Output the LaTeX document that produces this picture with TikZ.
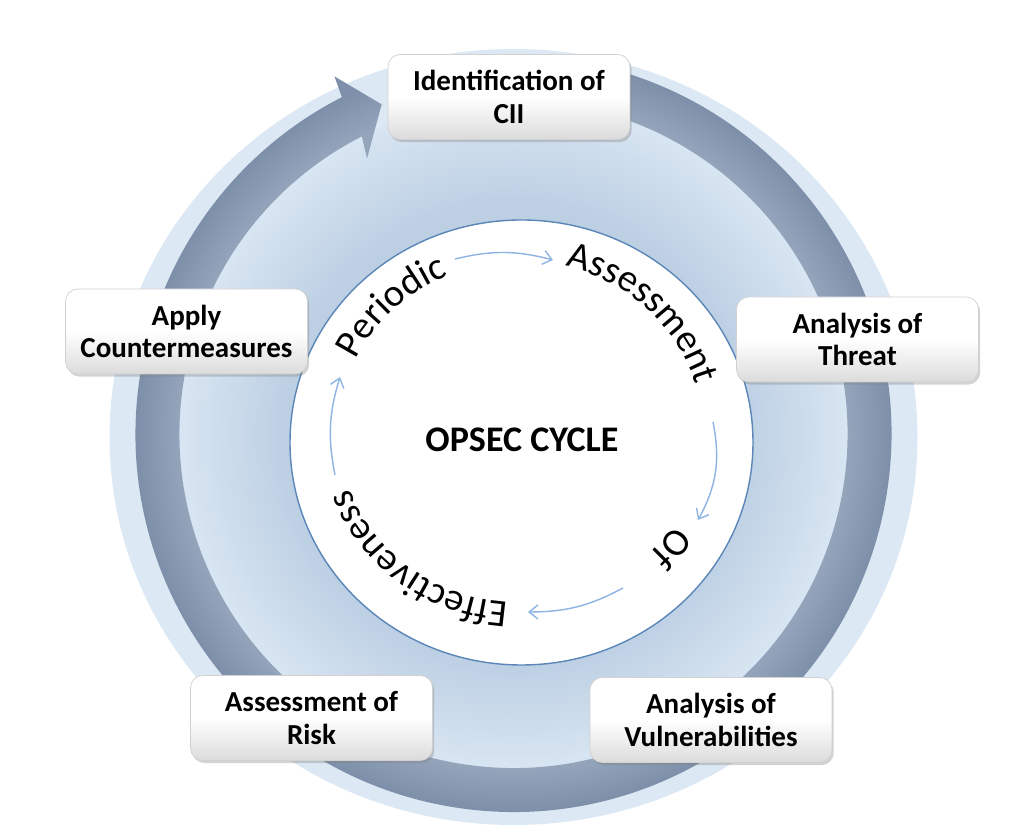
\documentclass[tikz,border=0pt]{standalone}
\usepackage{fontspec}
\setmainfont{Carlito}
\usetikzlibrary{arrows.meta,decorations.text,shadows}

\definecolor{discblue}{HTML}{DCE8F4}
\definecolor{midlight}{HTML}{D8E5F2}
\definecolor{middark}{HTML}{BCCFE3}
\definecolor{bandlight}{HTML}{93A4BB}
\definecolor{banddark}{HTML}{7E8FA9}
\definecolor{rimblue}{HTML}{5A86B8}
\definecolor{thinarrow}{HTML}{8EB4E3}

\pgfdeclareradialshading{midshade}{\pgfpoint{0bp}{0bp}}{color(0bp)=(middark); color(17bp)=(middark); color(25bp)=(midlight); color(50bp)=(midlight)}
\pgfdeclareradialshading{bandshade}{\pgfpoint{0bp}{0bp}}{color(0bp)=(bandlight); color(20.9bp)=(bandlight); color(23.6bp)=(banddark); color(50bp)=(banddark)}

\newcommand{\curvefont}{\fontsize{22}{26}\selectfont}

\begin{document}
\begin{tikzpicture}[x=0.02cm, y=0.02cm,
    stepbox/.style={rectangle, rounded corners=7pt, draw=black!18, line width=0.4pt,
      top color=white, bottom color=black!14, middle color=white,
      minimum width=4.84cm, minimum height=1.7cm, align=center,
      font=\fontsize{16.5}{18.4}\selectfont\bfseries,
      drop shadow={shadow xshift=1pt, shadow yshift=-1.5pt, opacity=0.35}},
    cyclearrow/.style={thinarrow, line width=0.8pt, -{Straight Barb[length=5pt,width=8pt]}},
    wordpath/.style={decorate, decoration={text along path, text={|\curvefont|#1}}}]
    \useasboundingbox (0,0) rectangle (1028,834);

    \coordinate (B) at (513.5,400);
    \coordinate (O) at (521.5,391.5);
    \coordinate (T) at (521,402);

    % Rings
    \fill[discblue] (513.5,397) ellipse [x radius=404, y radius=388];
    \shade[shading=midshade] (B) circle (334);
    \begin{scope}
        \clip ([shift={(80:378)}]B) arc[start angle=80, end angle=-243, radius=378]
            -- ([shift={(116.6:400)}]B) -- ([shift={(111.8:355)}]B) -- ([shift={(118:312)}]B)
            -- ([shift={(-243:334)}]B) arc[start angle=-243, end angle=80, radius=334] -- cycle;
        \shade[shading=bandshade] (B) circle (400);
    \end{scope}
    \filldraw[fill=white, draw=rimblue, line width=0.8pt] (O) ellipse [x radius=231.5, y radius=222.5];

    % Words round the circle
    \path[wordpath=Periodic]
        ([shift={(155:182 and 171)}]T) arc[start angle=155, end angle=60, x radius=182, y radius=171];
    \path[wordpath=Assessment]
        ([shift={(76:182 and 171)}]T) arc[start angle=76, end angle=-30, x radius=182, y radius=171];
    \path[wordpath=Of]
        ([shift={(-33:182 and 171)}]T) arc[start angle=-33, end angle=-85, x radius=182, y radius=171];
    \path[wordpath=Effectiveness]
        ([shift={(-94:182 and 171)}]T) arc[start angle=-94, end angle=-250, x radius=182, y radius=171];

    \node[font=\fontsize{20.5}{24}\selectfont\bfseries] (opsec) at (522,394) {OPSEC CYCLE};

    % Small arrows
    \coordinate (a1) at (455,575);
    \coordinate (a2) at (553,574);
    \coordinate (b1) at (713,412);
    \coordinate (b2) at (698,314);
    \coordinate (c1) at (623,246);
    \coordinate (c2) at (528,222);
    \coordinate (d1) at (335,359);
    \coordinate (d2) at (340,457);
    \draw[cyclearrow] (a1) to[bend left=14] (a2);
    \draw[cyclearrow] (b1) to[bend left=20] (b2);
    \draw[cyclearrow] (c1) to[bend left=14] (c2);
    \draw[cyclearrow] (d1) to[bend left=14] (d2);

    % Steps
    \node[stepbox] (cii) at (509,737) {Identification of\\CII};
    \node[stepbox] (threat) at (857.5,494.5) {Analysis of\\Threat};
    \node[stepbox] (vuln) at (711,114) {Analysis of\\Vulnerabilities};
    \node[stepbox] (risk) at (311.5,116) {Assessment of\\Risk};
    \node[stepbox] (counter) at (186.5,502.5) {Apply\\Countermeasures};
\end{tikzpicture}
\end{document}
